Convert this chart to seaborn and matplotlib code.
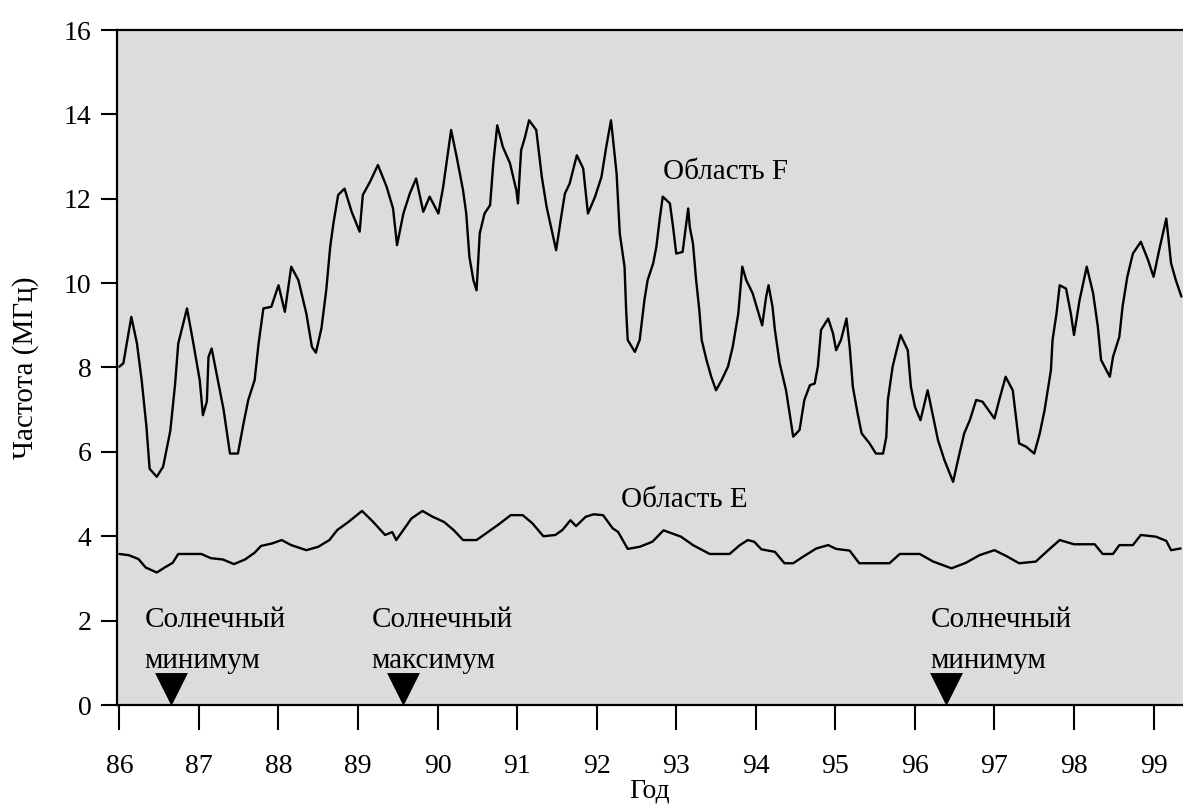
import matplotlib
matplotlib.use("Agg")
import matplotlib.pyplot as plt
import pandas as pd
import seaborn as sns

# Critical frequency of the F layer (MHz) by year
f_years = [86.00, 86.05, 86.15, 86.22, 86.28, 86.34, 86.38, 86.47, 86.55, 86.64,
           86.70, 86.74, 86.85, 86.93, 87.01, 87.05, 87.10, 87.12, 87.16, 87.22,
           87.31, 87.39, 87.49, 87.56, 87.62, 87.70, 87.75, 87.81, 87.91, 88.00,
           88.08, 88.16, 88.25, 88.35, 88.42, 88.47, 88.54, 88.60, 88.65, 88.69,
           88.75, 88.83, 88.92, 89.02, 89.06, 89.15, 89.25, 89.36, 89.44, 89.49,
           89.57, 89.65, 89.73, 89.82, 89.90, 90.01, 90.07, 90.17, 90.24, 90.32,
           90.36, 90.40, 90.45, 90.49, 90.53, 90.59, 90.66, 90.70, 90.75, 90.82,
           90.91, 90.99, 91.01, 91.05, 91.10, 91.15, 91.24, 91.31, 91.37, 91.49,
           91.56, 91.60, 91.66, 91.75, 91.83, 91.89, 91.98, 92.06, 92.12, 92.18,
           92.25, 92.29, 92.35, 92.37, 92.39, 92.48, 92.54, 92.60, 92.64, 92.71,
           92.75, 92.79, 92.83, 92.92, 92.96, 93.00, 93.08, 93.15, 93.17, 93.21,
           93.25, 93.29, 93.32, 93.38, 93.44, 93.50, 93.57, 93.65, 93.71, 93.78,
           93.83, 93.88, 93.96, 94.01, 94.08, 94.13, 94.16, 94.21, 94.24, 94.30,
           94.38, 94.47, 94.55, 94.61, 94.68, 94.74, 94.78, 94.82, 94.91, 94.97,
           95.01, 95.07, 95.14, 95.18, 95.22, 95.28, 95.33, 95.43, 95.51, 95.60,
           95.64, 95.66, 95.72, 95.77, 95.82, 95.91, 95.95, 96.00, 96.07, 96.12,
           96.16, 96.23, 96.29, 96.37, 96.48, 96.56, 96.62, 96.69, 96.77, 96.85,
           97.00, 97.06, 97.14, 97.23, 97.27, 97.31, 97.40, 97.50, 97.57, 97.63,
           97.67, 97.71, 97.73, 97.78, 97.82, 97.90, 97.96, 98.00, 98.07, 98.16,
           98.24, 98.30, 98.34, 98.45, 98.49, 98.57, 98.61, 98.67, 98.74, 98.84,
           98.93, 99.00, 99.07, 99.16, 99.22, 99.28, 99.35]
f_values = [8.02, 8.10, 9.20, 8.58, 7.70, 6.60, 5.60, 5.41, 5.65, 6.50,
            7.60, 8.57, 9.40, 8.57, 7.70, 6.87, 7.20, 8.25, 8.45, 7.87,
            7.00, 5.96, 5.96, 6.67, 7.23, 7.70, 8.57, 9.40, 9.44, 9.95,
            9.32, 10.39, 10.07, 9.28, 8.49, 8.35, 8.93, 9.83, 10.86, 11.41,
            12.09, 12.24, 11.69, 11.22, 12.09, 12.40, 12.80, 12.28, 11.77, 10.90,
            11.65, 12.12, 12.48, 11.69, 12.05, 11.65, 12.28, 13.63, 12.99, 12.20,
            11.65, 10.62, 10.07, 9.83, 11.18, 11.65, 11.85, 12.84, 13.74, 13.23,
            12.84, 12.20, 11.89, 13.15, 13.47, 13.86, 13.63, 12.52, 11.81, 10.78,
            11.65, 12.12, 12.36, 13.03, 12.72, 11.65, 12.05, 12.52, 13.23, 13.86,
            12.60, 11.18, 10.39, 9.36, 8.65, 8.37, 8.65, 9.60, 10.07, 10.47,
            10.86, 11.49, 12.05, 11.89, 11.33, 10.70, 10.74, 11.77, 11.33, 10.94,
            10.07, 9.36, 8.65, 8.18, 7.78, 7.46, 7.70, 8.02, 8.49, 9.28,
            10.39, 10.07, 9.76, 9.44, 9.00, 9.68, 9.95, 9.44, 8.89, 8.10,
            7.46, 6.36, 6.52, 7.23, 7.58, 7.62, 8.02, 8.89, 9.16, 8.81,
            8.41, 8.65, 9.16, 8.49, 7.54, 6.91, 6.44, 6.20, 5.96, 5.96,
            6.35, 7.23, 8.02, 8.41, 8.77, 8.41, 7.54, 7.07, 6.75, 7.15,
            7.46, 6.83, 6.28, 5.81, 5.29, 5.96, 6.44, 6.75, 7.23, 7.19,
            6.79, 7.23, 7.78, 7.46, 6.83, 6.20, 6.12, 5.96, 6.44, 6.99,
            7.46, 7.94, 8.65, 9.28, 9.95, 9.87, 9.28, 8.77, 9.60, 10.39,
            9.76, 8.96, 8.18, 7.78, 8.25, 8.73, 9.44, 10.15, 10.70, 10.98,
            10.55, 10.15, 10.78, 11.53, 10.47, 10.07, 9.68]

# Critical frequency of the E layer (MHz) by year
e_years = [86.00, 86.12, 86.24, 86.33, 86.47, 86.57, 86.67, 86.74, 87.03, 87.15,
           87.30, 87.44, 87.58, 87.70, 87.78, 87.92, 88.04, 88.16, 88.35, 88.50,
           88.64, 88.74, 88.88, 89.05, 89.19, 89.34, 89.43, 89.48, 89.60, 89.67,
           89.81, 89.94, 90.08, 90.20, 90.32, 90.49, 90.61, 90.76, 90.92, 91.07,
           91.19, 91.33, 91.48, 91.57, 91.67, 91.74, 91.86, 91.96, 92.08, 92.20,
           92.27, 92.39, 92.54, 92.70, 92.84, 93.06, 93.21, 93.42, 93.67, 93.80,
           93.90, 93.98, 94.07, 94.24, 94.36, 94.47, 94.59, 94.76, 94.91, 95.01,
           95.18, 95.30, 95.68, 95.81, 96.06, 96.23, 96.46, 96.64, 96.81, 97.00,
           97.15, 97.31, 97.52, 97.67, 97.82, 98.00, 98.26, 98.36, 98.49, 98.57,
           98.74, 98.84, 99.03, 99.16, 99.22, 99.34]
e_values = [3.58, 3.55, 3.46, 3.26, 3.14, 3.26, 3.37, 3.58, 3.58, 3.48,
            3.45, 3.34, 3.45, 3.61, 3.77, 3.83, 3.91, 3.79, 3.67, 3.75,
            3.91, 4.15, 4.34, 4.60, 4.34, 4.03, 4.10, 3.91, 4.23, 4.42,
            4.60, 4.46, 4.34, 4.15, 3.91, 3.91, 4.07, 4.27, 4.50, 4.50,
            4.31, 4.00, 4.03, 4.15, 4.38, 4.24, 4.46, 4.52, 4.50, 4.19,
            4.10, 3.70, 3.75, 3.87, 4.14, 3.99, 3.79, 3.58, 3.58, 3.79,
            3.91, 3.87, 3.69, 3.63, 3.36, 3.36, 3.51, 3.71, 3.79, 3.70,
            3.66, 3.36, 3.36, 3.58, 3.58, 3.40, 3.24, 3.37, 3.55, 3.67,
            3.53, 3.36, 3.40, 3.66, 3.91, 3.81, 3.81, 3.58, 3.58, 3.79,
            3.79, 4.03, 3.99, 3.89, 3.67, 3.71]

year_ticks = [86, 87, 88, 89, 90, 91, 92, 93, 94, 95, 96, 97, 98, 99]
freq_ticks = [0, 2, 4, 6, 8, 10, 12, 14, 16]

# Solar cycle markers
solar_years = [86.65, 89.57, 96.39]
solar_labels = ["Солнечный\nминимум", "Солнечный\nмаксимум", "Солнечный\nминимум"]
solar_label_years = [86.32, 89.17, 96.20]

layer_labels = ["Область F", "Область E"]
layer_label_pos = [(92.83, 12.63), (92.30, 4.86)]

df_f = pd.DataFrame({"year": f_years, "freq": f_values, "layer": "F"})
df_e = pd.DataFrame({"year": e_years, "freq": e_values, "layer": "E"})
df = pd.concat([df_f, df_e], ignore_index=True)

sns.set_theme(style="ticks")
plt.rcParams["font.family"] = ["Liberation Serif", "DejaVu Serif"]

fig = plt.figure(figsize=(11.83, 8.05), dpi=100)
ax = fig.add_axes([117 / 1183, 100 / 805, 1 - 117 / 1183, 675 / 805])
ax.set_facecolor("#dcdcdc")

sns.lineplot(data=df, x="year", y="freq", units="layer", estimator=None,
             color="black", linewidth=1.7, sort=False, ax=ax, legend=False)

ax.scatter(solar_years, [0.38] * len(solar_years), marker="v", s=560,
           color="black", zorder=5, linewidths=0)

for lx, txt in zip(solar_label_years, solar_labels):
    ax.text(lx, 1.52, txt, fontsize=21, ha="left", va="center",
            linespacing=1.75, color="black")

for txt, (lx, ly) in zip(layer_labels, layer_label_pos):
    ax.text(lx, ly, txt, fontsize=21, ha="left", va="center", color="black")

ax.set_xlim(85.97, 99.37)
ax.set_ylim(0, 16)
ax.set_xticks(year_ticks)
ax.set_yticks(freq_ticks)
ax.set_xticklabels([str(t) for t in year_ticks], fontsize=20)
ax.set_yticklabels([str(t) for t in freq_ticks], fontsize=20)
ax.tick_params(axis="x", direction="out", length=18, width=1.5, pad=17,
               colors="black")
ax.tick_params(axis="y", direction="out", length=11.5, width=1.5, pad=7,
               colors="black")

for side in ["left", "bottom", "top"]:
    ax.spines[side].set_visible(True)
    ax.spines[side].set_color("black")
    ax.spines[side].set_linewidth(1.6)
ax.spines["right"].set_visible(False)

ax.set_xlabel("Год", fontsize=20, labelpad=0, color="black")
ax.set_ylabel("Частота (МГц)", fontsize=21, labelpad=18, color="black")

fig.savefig("out.png", dpi=100)
